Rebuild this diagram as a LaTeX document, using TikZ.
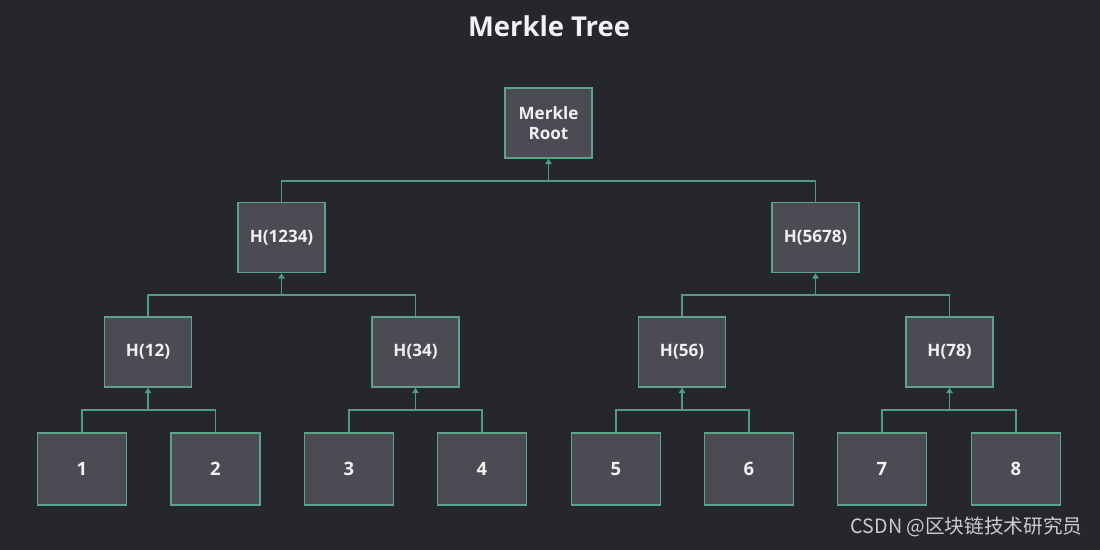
\documentclass[tikz,border=0pt]{standalone}
\usepackage{fontspec}
\setmainfont{Open Sans}
\newfontfamily\cjkfont{Noto Sans CJK SC}
\usetikzlibrary{arrows.meta,positioning}

\definecolor{bgdark}{HTML}{26272D}
\definecolor{boxfill}{HTML}{4B4C53}
\definecolor{boxedge}{HTML}{5CA38A}
\definecolor{wiregreen}{HTML}{4F9C80}

\tikzset{
  hashbox/.style={draw=boxedge, fill=boxfill, line width=0.9pt,
    minimum width=1.74cm, minimum height=1.4cm, align=center,
    font=\bfseries\fontsize{9.7}{11}\selectfont, text=white!94!black},
  leafbox/.style={hashbox, minimum width=1.78cm, minimum height=1.44cm,
    font=\bfseries\fontsize{10.5}{12}\selectfont},
  wire/.style={draw=wiregreen, line width=0.75pt},
  upwire/.style={wire, -{Triangle[width=3.6pt,length=3pt]}}
}

\begin{document}
\begin{tikzpicture}[x=0.02cm, y=-0.02cm]
  \fill[bgdark] (0,0) rectangle (1100,550);
  \useasboundingbox (0,0) rectangle (1100,550);

  % Title
  \node[font=\bfseries\fontsize{15.6}{18}\selectfont, text=white!95!black]
    (title) at (549,26) {Merkle Tree};

  % Root and first level
  \node[hashbox] (root) at (548.5,123) {Merkle\\Root};
  \node[hashbox] (h1234) at (281.5,237.5) {H(1234)};
  \node[hashbox] (h5678) at (815.5,237.5) {H(5678)};

  % Second level
  \node[hashbox] (h12) at (148,352) {H(12)};
  \node[hashbox] (h34) at (415.5,352) {H(34)};
  \node[hashbox] (h56) at (682,352) {H(56)};
  \node[hashbox] (h78) at (949.5,352) {H(78)};

  % Leaves
  \node[leafbox] (l1) at (82,469) {1};
  \node[leafbox] (l2) at (215.5,469) {2};
  \node[leafbox] (l3) at (349,469) {3};
  \node[leafbox] (l4) at (482,469) {4};
  \node[leafbox] (l5) at (616,469) {5};
  \node[leafbox] (l6) at (749,469) {6};
  \node[leafbox] (l7) at (882,469) {7};
  \node[leafbox] (l8) at (1016,469) {8};

  % Junction points under each parent
  \coordinate (jroot)  at (548.5,181);
  \coordinate (j1234)  at (281.5,295);
  \coordinate (j5678)  at (815.5,295);
  \coordinate (j12)    at (148,410);
  \coordinate (j34)    at (415.5,410);
  \coordinate (j56)    at (682,410);
  \coordinate (j78)    at (949.5,410);

  % Connectors
  \foreach \up/\lo/\ro in {root/h1234/h5678, 1234/h12/h34, 5678/h56/h78,
      12/l1/l2, 34/l3/l4, 56/l5/l6, 78/l7/l8} {
    \draw[wire] (\lo.north) |- (j\up) -| (\ro.north);
  }
  \draw[upwire] (jroot) -- (root.south);
  \draw[upwire] (j1234) -- (h1234.south);
  \draw[upwire] (j5678) -- (h5678.south);
  \draw[upwire] (j12) -- (h12.south);
  \draw[upwire] (j34) -- (h34.south);
  \draw[upwire] (j56) -- (h56.south);
  \draw[upwire] (j78) -- (h78.south);

  % Watermark
  \node[font=\cjkfont\fontsize{11.2}{13}\selectfont, text=white!80!black,
    anchor=east, inner sep=0pt] (mark) at (1083,527) {CSDN @区块链技术研究员};

\end{tikzpicture}
\end{document}
